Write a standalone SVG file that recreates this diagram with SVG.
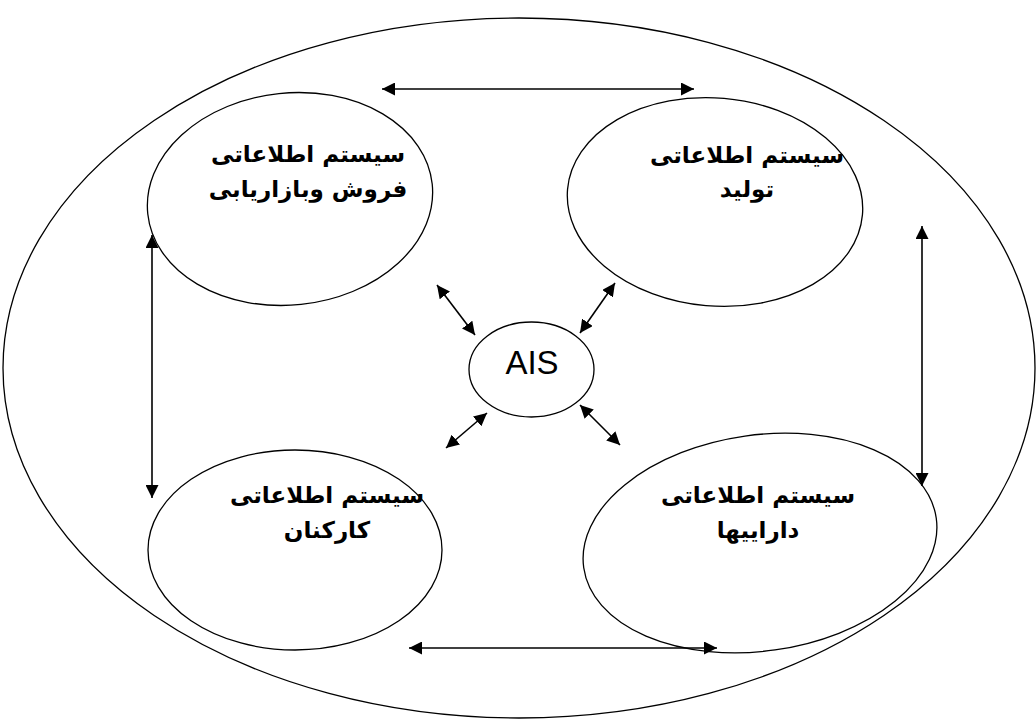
<svg xmlns="http://www.w3.org/2000/svg" width="1036" height="720" viewBox="0 0 1036 720">
<defs>
<marker id="ah" viewBox="0 0 10 10" refX="10" refY="5" markerWidth="13" markerHeight="13" markerUnits="userSpaceOnUse" orient="auto-start-reverse">
<path d="M0,0 L10,5 L0,10 z" fill="#000"/>
</marker>
<style>
.e{fill:none;stroke:#000;stroke-width:1.3}
.c{stroke:#000;stroke-width:1.6;fill:none;marker-start:url(#ah);marker-end:url(#ah)}
.t{font-family:"DejaVu Sans","Noto Sans",sans-serif;font-weight:bold;font-size:23px;text-anchor:middle;fill:#000}
.a{font-family:"Liberation Sans",Arial,sans-serif;font-size:33px;text-anchor:middle;fill:#000}
</style>
</defs>
<rect width="1036" height="720" fill="#fff"/>
<ellipse id="outer" class="e" cx="519" cy="368" rx="516" ry="350"/>
<g id="sales">
<ellipse class="e" cx="290" cy="199" rx="143" ry="106" transform="rotate(-6 290 199)"/>
<text class="t" x="308" y="162" direction="rtl">سیستم اطلاعاتی</text>
<text class="t" x="308" y="197" direction="rtl">فروش وبازاریابی</text>
</g>
<g id="production">
<ellipse class="e" cx="715" cy="202" rx="148" ry="104" transform="rotate(5 715 202)"/>
<text class="t" x="747" y="163" direction="rtl">سیستم اطلاعاتی</text>
<text class="t" x="747" y="197" direction="rtl">تولید</text>
</g>
<g id="personnel">
<ellipse class="e" cx="295" cy="550" rx="147" ry="100"/>
<text class="t" x="327" y="503" direction="rtl">سیستم اطلاعاتی</text>
<text class="t" x="327" y="538" direction="rtl">کارکنان</text>
</g>
<g id="assets">
<ellipse class="e" cx="760" cy="543" rx="178" ry="108" transform="rotate(-8 760 543)"/>
<text class="t" x="758" y="503" direction="rtl">سیستم اطلاعاتی</text>
<text class="t" x="758" y="538" direction="rtl">داراییها</text>
</g>
<g id="ais">
<ellipse class="e" cx="531.5" cy="369.5" rx="62.5" ry="47.5"/>
<text class="a" x="532" y="374">AIS</text>
</g>
<g id="connectors">
<line class="c" x1="382" y1="89" x2="694" y2="89"/>
<line class="c" x1="409" y1="648" x2="717" y2="648"/>
<line class="c" x1="152" y1="235" x2="152" y2="498"/>
<line class="c" x1="922" y1="226" x2="922" y2="486"/>
<line class="c" x1="437" y1="285" x2="475" y2="335"/>
<line class="c" x1="615" y1="283" x2="580" y2="333"/>
<line class="c" x1="487" y1="413" x2="446" y2="448"/>
<line class="c" x1="580" y1="405" x2="620" y2="445"/>
</g>
</svg>
